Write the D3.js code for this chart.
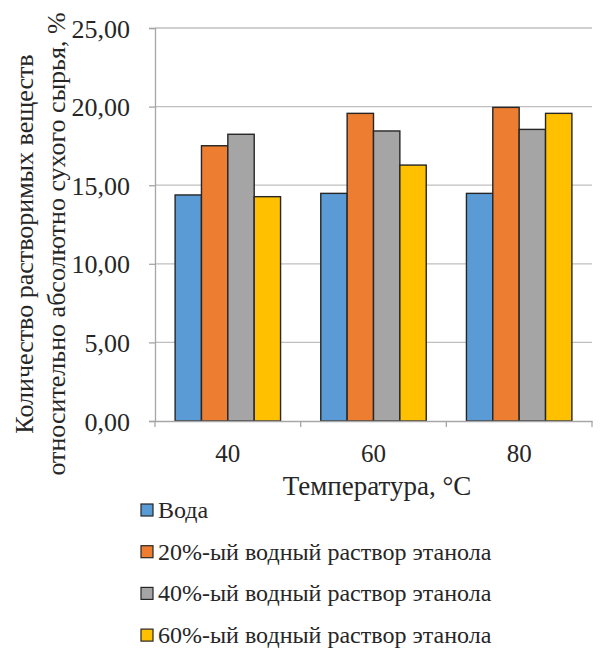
<!DOCTYPE html>
<html>
<head>
<meta charset="utf-8">
<script src="https://cdn.jsdelivr.net/npm/d3@7"></script>
<style>
  html, body { margin: 0; padding: 0; background: #fff; }
</style>
</head>
<body>
<svg id="chart" width="600" height="651" font-family="Liberation Serif"></svg>
<script>
// Температуры экстракции, °C
const categories = ["40", "60", "80"];
// Названия экстрагентов
const seriesNames = [
  "Вода",
  "20%-ый водный раствор этанола",
  "40%-ый водный раствор этанола",
  "60%-ый водный раствор этанола"
];
// Выход растворимых веществ, % от абсолютно сухого сырья
const water     = [14.38, 14.48, 14.48];
const ethanol20 = [17.51, 19.57, 19.95];
const ethanol40 = [18.24, 18.45, 18.55];
const ethanol60 = [14.27, 16.28, 19.57];
const yTicks = [0, 5, 10, 15, 20, 25];
const colors = ["#5B9BD5", "#ED7D31", "#A5A5A5", "#FFC000"];

const series = [water, ethanol20, ethanol40, ethanol60];
const FONT = "Liberation Serif";
const INK = "#262626";

const svg = d3.select("#chart");
const plot = { left: 155, right: 592, top: 28, bottom: 421 };

const x0 = d3.scaleBand().domain(categories).range([plot.left, plot.right]).padding(0);
// each group of bars fills ~72% of its category
const x1 = d3.scaleBand().domain(d3.range(series.length))
  .range([x0.bandwidth() * 0.138, x0.bandwidth() * 0.862]).padding(0);
const y = d3.scaleLinear().domain([0, 25]).range([plot.bottom, plot.top]);

// gridlines
svg.append("g").selectAll("line").data(yTicks.slice(1)).join("line")
  .attr("x1", plot.left).attr("x2", plot.right)
  .attr("y1", d => y(d)).attr("y2", d => y(d))
  .attr("stroke", "#bfbfbf").attr("stroke-width", 1.3);

// bars
const groups = svg.append("g").selectAll("g").data(categories).join("g")
  .attr("transform", c => `translate(${x0(c)},0)`);
groups.selectAll("rect")
  .data((c, ci) => series.map((s, si) => ({ si, v: s[ci] })))
  .join("rect")
  .attr("x", d => x1(d.si))
  .attr("width", x1.bandwidth())
  .attr("y", d => y(d.v))
  .attr("height", d => y(0) - y(d.v))
  .attr("fill", d => colors[d.si])
  .attr("stroke", INK).attr("stroke-width", 1.4);

// y axis
const yAxis = d3.axisLeft(y).tickValues(yTicks).tickSize(6).tickPadding(19)
  .tickFormat(d => d3.format(".2f")(d).replace(".", ","));
const gy = svg.append("g").attr("transform", `translate(${plot.left},0)`).call(yAxis)
  .attr("font-family", FONT);
gy.select(".domain").attr("stroke", "#a6a6a6").attr("stroke-width", 1.3);
gy.selectAll(".tick line").attr("stroke", "#a6a6a6").attr("stroke-width", 1.3);
gy.selectAll(".tick text").attr("font-family", FONT).attr("font-size", 26)
  .attr("fill", INK).attr("dy", "0.35em");

// x axis
const xAxis = d3.axisBottom(x0).tickSize(0).tickPadding(0);
const gx = svg.append("g").attr("transform", `translate(0,${plot.bottom})`).call(xAxis)
  .attr("font-family", FONT);
gx.select(".domain").attr("stroke", "#a6a6a6").attr("stroke-width", 1.3);
gx.selectAll(".tick text").attr("font-family", FONT).attr("font-size", 25).attr("fill", INK)
  .attr("y", 41).attr("dy", 0);
// category boundary ticks
const bounds = categories.map(c => x0(c)).concat([x0.range()[1]]);
gx.append("g").selectAll("line").data(bounds).join("line")
  .attr("x1", d => d).attr("x2", d => d).attr("y1", 0).attr("y2", 6)
  .attr("stroke", "#a6a6a6").attr("stroke-width", 1.3);

// axis titles
svg.append("text").attr("x", 377).attr("y", 495)
  .attr("font-family", FONT).attr("text-anchor", "middle").attr("font-size", 27).attr("fill", INK)
  .text("Температура, °С");

const yTitle = svg.append("text").attr("transform", "translate(0,244) rotate(-90)")
  .attr("font-family", FONT).attr("text-anchor", "middle").attr("font-size", 26).attr("fill", INK);
yTitle.append("tspan").attr("x", 0).attr("y", 33).text("Количество растворимых веществ");
yTitle.append("tspan").attr("x", 0).attr("y", 65).text("относительно абсолютно сухого сырья, %");

// legend
const legend = svg.append("g").selectAll("g").data(seriesNames).join("g")
  .attr("transform", (d, i) => `translate(141,${510 + i * 41.7})`);
legend.append("rect").attr("x", 0).attr("y", -6).attr("width", 12).attr("height", 12)
  .attr("fill", (d, i) => colors[i]).attr("stroke", INK).attr("stroke-width", 1.2);
legend.append("text").attr("x", 17).attr("y", 8)
  .attr("font-family", FONT).attr("font-size", 24).attr("fill", INK)
  .text(d => d);
</script>
</body>
</html>
